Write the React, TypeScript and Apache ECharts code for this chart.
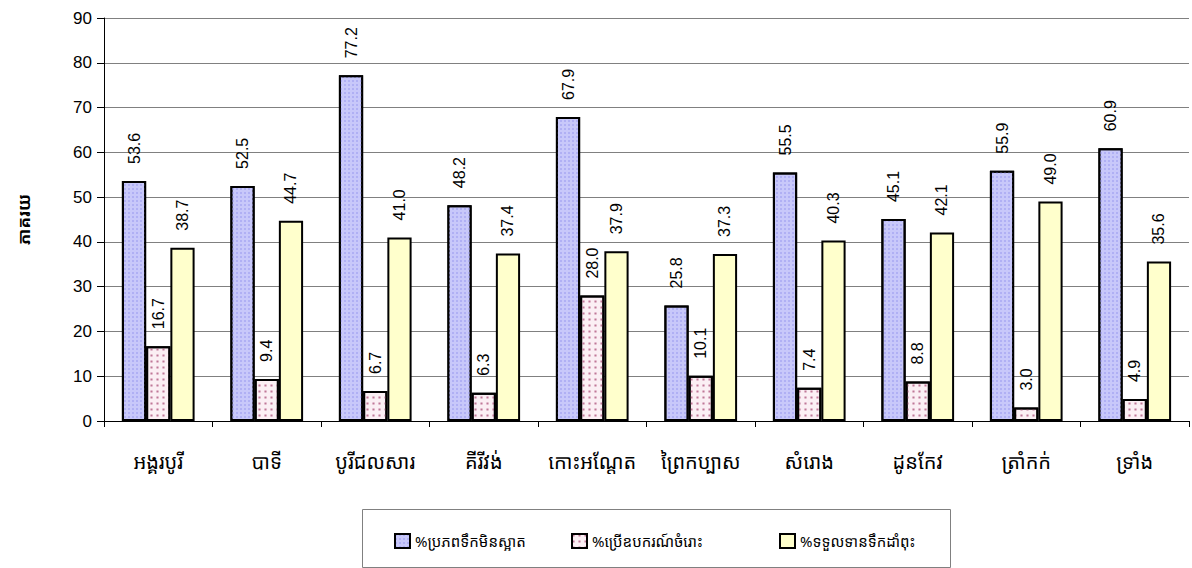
import React, { useEffect, useRef } from "react";
import * as echarts from "echarts";

const categories = ["អង្គរបូរី", "បាទី", "បូរីជលសារ", "គីរីវង់", "កោះអណ្តែត", "ព្រៃកប្បាស", "សំរោង", "ដូនកែវ", "ត្រាំកក់", "ទ្រាំង"];
const seriesNames = ["%ប្រភពទឹកមិនស្អាត", "%ប្រើឧបករណ៍ចំរោះ", "%ទទួលទានទឹកដាំពុះ"];
const unsafeSource = [53.6, 52.5, 77.2, 48.2, 67.9, 25.8, 55.5, 45.1, 55.9, 60.9];
const useFilter = [16.7, 9.4, 6.7, 6.3, 28.0, 10.1, 7.4, 8.8, 3.0, 4.9];
const boiledWater = [38.7, 44.7, 41.0, 37.4, 37.9, 37.3, 40.3, 42.1, 49.0, 35.6];
const yAxisName = "ភាគរយ";

const KH = "'Noto Sans Khmer', 'Khmer OS', 'Noto Serif Khmer', 'Noto Sans', sans-serif";
const AR = "Arial, 'Liberation Sans', sans-serif";

export default function App() {
  const ref = useRef<HTMLDivElement>(null);
  useEffect(() => {
    if (!ref.current) return;
    const chart = echarts.init(ref.current, null, { renderer: "svg" });
    const label = {
      show: true,
      position: "top" as const,
      rotate: 90,
      align: "left" as const,
      verticalAlign: "middle" as const,
      distance: 17,
      fontFamily: AR,
      fontSize: 16,
      color: "#000",
      formatter: (p: any) => Number(p.value).toFixed(1),
    };
    const labelLayout = { rotate: 90 };
    const border = { borderColor: "#000", borderWidth: 2 };
    const legendBase = {
      top: 533,
      orient: "horizontal",
      itemWidth: 15,
      itemHeight: 14,
      itemGap: 0,
      padding: 0,
      icon: "rect",
      textStyle: { fontFamily: KH, fontSize: 15, color: "#000" },
    };
    const legendLefts = [394, 571, 779];
    chart.setOption({
      animation: false,
      backgroundColor: "#fff",
      grid: { left: 104, right: 3, top: 18, bottom: 147, containLabel: false },
      graphic: [
        {
          type: "rect",
          shape: { x: 362.5, y: 509.5, width: 588, height: 58 },
          style: { fill: "none", stroke: "#808080", lineWidth: 1 },
          silent: true,
        },
      ],
      legend: seriesNames.map((n, i) => ({ ...legendBase, left: legendLefts[i], data: [n] })),
      xAxis: {
        type: "category",
        data: categories,
        axisLine: { lineStyle: { color: "#000", width: 1 } },
        axisTick: { show: true, interval: 0, length: 6, lineStyle: { color: "#000" } },
        axisLabel: { interval: 0, margin: 30, fontFamily: KH, fontSize: 20, color: "#000" },
      },
      yAxis: {
        type: "value",
        min: 0,
        max: 90,
        interval: 10,
        name: yAxisName,
        nameLocation: "middle",
        nameGap: 72,
        nameRotate: 90,
        nameTextStyle: { fontFamily: KH, fontSize: 17, fontWeight: "bold", color: "#000" },
        axisLine: { show: true, lineStyle: { color: "#000" } },
        axisTick: { show: true, length: 7, lineStyle: { color: "#000" } },
        axisLabel: { margin: 12, fontFamily: AR, fontSize: 17, color: "#000" },
        splitLine: { lineStyle: { color: "#808080", width: 1 } },
      },
      series: [
        {
          name: seriesNames[0],
          type: "bar",
          data: unsafeSource,
          barGap: "0%",
          barCategoryGap: "33%",
          itemStyle: {
            color: "#C8C8FA",
            ...border,
            decal: { symbol: "rect", symbolSize: 1, dashArrayX: [2, 2], dashArrayY: [2, 2], color: "#B0B0F4" },
          },
          label,
          labelLayout,
        },
        {
          name: seriesNames[1],
          type: "bar",
          data: useFilter,
          itemStyle: {
            color: "#FBEFF4",
            ...border,
            decal: { symbol: "rect", symbolSize: 0.7, dashArrayX: [3, 3], dashArrayY: [3, 3], color: "#C07898" },
          },
          label,
          labelLayout,
        },
        {
          name: seriesNames[2],
          type: "bar",
          data: boiledWater,
          itemStyle: { color: "#FFFFCC", ...border },
          label,
          labelLayout,
        },
      ],
    });
    return () => chart.dispose();
  }, []);
  return <div ref={ref} style={{ width: 1192, height: 568, position: "absolute", left: 0, top: 0 }} />;
}
